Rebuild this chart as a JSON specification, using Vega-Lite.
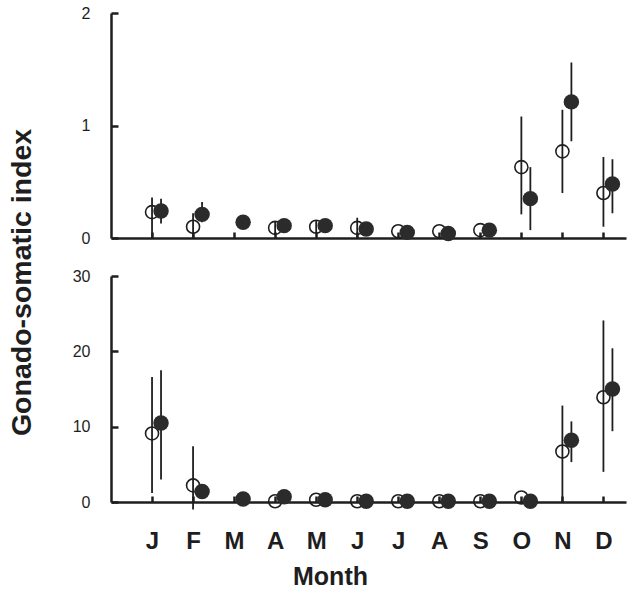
{
  "$schema": "https://vega.github.io/schema/vega-lite/v6.json",
  "background": "white",
  "padding": {"left": 6, "top": 5, "right": 5, "bottom": 0},
  "config": {
    "font": "Liberation Sans",
    "view": {"stroke": null},
    "axis": {"grid": false, "domainColor": "#1e1e1e", "domainWidth": 2.5, "tickColor": "#1e1e1e", "tickWidth": 2.5, "labelFont": "Liberation Sans", "labelColor": "#1e1e1e", "titleColor": "#1e1e1e", "labelOverlap": false, "labelFlush": false},
    "axisY": {"tickSize": -7, "labelFontSize": 16, "labelAlign": "right", "labelBaseline": "middle"}
  },
  "datasets": {
    "top": [
      {"month": 1, "series": "open", "gsi": 0.23, "lo": 0.0, "hi": 0.36},
      {"month": 2, "series": "open", "gsi": 0.10, "lo": 0.0, "hi": 0.22},
      {"month": 4, "series": "open", "gsi": 0.09, "lo": 0.03, "hi": 0.15},
      {"month": 5, "series": "open", "gsi": 0.10, "lo": 0.04, "hi": 0.16},
      {"month": 6, "series": "open", "gsi": 0.09, "lo": 0.0, "hi": 0.18},
      {"month": 7, "series": "open", "gsi": 0.06, "lo": null, "hi": null},
      {"month": 8, "series": "open", "gsi": 0.06, "lo": null, "hi": null},
      {"month": 9, "series": "open", "gsi": 0.07, "lo": null, "hi": null},
      {"month": 10, "series": "open", "gsi": 0.63, "lo": 0.21, "hi": 1.08},
      {"month": 11, "series": "open", "gsi": 0.77, "lo": 0.40, "hi": 1.14},
      {"month": 12, "series": "open", "gsi": 0.40, "lo": 0.10, "hi": 0.72},
      {"month": 1, "series": "filled", "gsi": 0.24, "lo": 0.13, "hi": 0.35},
      {"month": 2, "series": "filled", "gsi": 0.21, "lo": 0.14, "hi": 0.32},
      {"month": 3, "series": "filled", "gsi": 0.14, "lo": null, "hi": null},
      {"month": 4, "series": "filled", "gsi": 0.11, "lo": null, "hi": null},
      {"month": 5, "series": "filled", "gsi": 0.11, "lo": null, "hi": null},
      {"month": 6, "series": "filled", "gsi": 0.08, "lo": null, "hi": null},
      {"month": 7, "series": "filled", "gsi": 0.05, "lo": null, "hi": null},
      {"month": 8, "series": "filled", "gsi": 0.04, "lo": null, "hi": null},
      {"month": 9, "series": "filled", "gsi": 0.07, "lo": null, "hi": null},
      {"month": 10, "series": "filled", "gsi": 0.35, "lo": 0.07, "hi": 0.63},
      {"month": 11, "series": "filled", "gsi": 1.21, "lo": 0.86, "hi": 1.56},
      {"month": 12, "series": "filled", "gsi": 0.48, "lo": 0.22, "hi": 0.70}
    ],
    "bottom": [
      {"month": 1, "series": "open", "gsi": 9.1, "lo": 1.2, "hi": 16.6},
      {"month": 2, "series": "open", "gsi": 2.2, "lo": -1.0, "hi": 7.4},
      {"month": 4, "series": "open", "gsi": 0.1, "lo": null, "hi": null},
      {"month": 5, "series": "open", "gsi": 0.3, "lo": null, "hi": null},
      {"month": 6, "series": "open", "gsi": 0.1, "lo": null, "hi": null},
      {"month": 7, "series": "open", "gsi": 0.1, "lo": null, "hi": null},
      {"month": 8, "series": "open", "gsi": 0.1, "lo": null, "hi": null},
      {"month": 9, "series": "open", "gsi": 0.1, "lo": null, "hi": null},
      {"month": 10, "series": "open", "gsi": 0.6, "lo": null, "hi": null},
      {"month": 11, "series": "open", "gsi": 6.7, "lo": 0.0, "hi": 12.8},
      {"month": 12, "series": "open", "gsi": 13.9, "lo": 4.0, "hi": 24.1},
      {"month": 1, "series": "filled", "gsi": 10.5, "lo": 3.0, "hi": 17.5},
      {"month": 2, "series": "filled", "gsi": 1.4, "lo": null, "hi": null},
      {"month": 3, "series": "filled", "gsi": 0.4, "lo": null, "hi": null},
      {"month": 4, "series": "filled", "gsi": 0.7, "lo": null, "hi": null},
      {"month": 5, "series": "filled", "gsi": 0.3, "lo": null, "hi": null},
      {"month": 6, "series": "filled", "gsi": 0.1, "lo": null, "hi": null},
      {"month": 7, "series": "filled", "gsi": 0.1, "lo": null, "hi": null},
      {"month": 8, "series": "filled", "gsi": 0.1, "lo": null, "hi": null},
      {"month": 9, "series": "filled", "gsi": 0.1, "lo": null, "hi": null},
      {"month": 10, "series": "filled", "gsi": 0.1, "lo": null, "hi": null},
      {"month": 11, "series": "filled", "gsi": 8.2, "lo": 5.3, "hi": 10.7},
      {"month": 12, "series": "filled", "gsi": 15.0, "lo": 9.4, "hi": 20.4}
    ]
  },
  "spacing": 38,
  "bounds": "flush",
  "vconcat": [
    {
      "width": 515,
      "height": 225,
      "data": {"name": "top"},
      "encoding": {
        "x": {"field": "month", "type": "quantitative", "scale": {"domain": [0, 12.55], "nice": false, "zero": false},
              "axis": {"values": [1,2,3,4,5,6,7,8,9,10,11,12], "labels": false, "title": null, "tickSize": -6}}
      },
      "layer": [
        {
          "transform": [{"filter": "datum.series === 'open' && datum.lo != null"}],
          "mark": {"type": "rule", "strokeWidth": 1.8, "color": "#1e1e1e"},
          "encoding": {
            "y": {"field": "lo", "type": "quantitative", "scale": {"domain": [0, 2], "nice": false},
                  "axis": {"values": [0, 1, 2], "labelExpr": "datum.value + ''", "labelPadding": 28, "title": null}},
            "y2": {"field": "hi"}
          }
        },
        {
          "transform": [{"filter": "datum.series === 'filled' && datum.lo != null"}],
          "mark": {"type": "rule", "strokeWidth": 1.8, "color": "#1e1e1e", "xOffset": 9},
          "encoding": {
            "y": {"field": "lo", "type": "quantitative", "axis": {"values": [0, 1, 2], "labelExpr": "datum.value + ''", "labelPadding": 28, "title": null}},
            "y2": {"field": "hi"}
          }
        },
        {
          "transform": [{"filter": "datum.series === 'open'"}],
          "mark": {"type": "point", "shape": "circle", "filled": false, "size": 170, "strokeWidth": 1.6, "color": "#1e1e1e", "opacity": 1},
          "encoding": {
            "y": {"field": "gsi", "type": "quantitative", "axis": {"values": [0, 1, 2], "labelExpr": "datum.value + ''", "labelPadding": 28, "title": null}}
          }
        },
        {
          "transform": [{"filter": "datum.series === 'filled'"}],
          "mark": {"type": "circle", "size": 240, "color": "#2b2b2b", "opacity": 1, "xOffset": 9},
          "encoding": {
            "y": {"field": "gsi", "type": "quantitative", "axis": {"values": [0, 1, 2], "labelExpr": "datum.value + ''", "labelPadding": 28, "title": null}}
          }
        }
      ]
    },
    {
      "width": 515,
      "height": 226,
      "data": {"name": "bottom"},
      "encoding": {
        "x": {"field": "month", "type": "quantitative", "scale": {"domain": [0, 12.55], "nice": false, "zero": false},
              "axis": {"values": [1,2,3,4,5,6,7,8,9,10,11,12], "tickSize": -6,
                       "labelExpr": "['J','F','M','A','M','J','J','A','S','O','N','D'][datum.value - 1]",
                       "labelFontSize": 24, "labelFontWeight": "bold", "labelPadding": 33,
                       "title": "Month", "titleFontSize": 25, "titleFontWeight": "bold", "titlePadding": 11, "titleX": 219, "titleAlign": "center"}}
      },
      "layer": [
        {
          "transform": [{"filter": "datum.series === 'open' && datum.lo != null"}],
          "mark": {"type": "rule", "strokeWidth": 1.8, "color": "#1e1e1e"},
          "encoding": {
            "y": {"field": "lo", "type": "quantitative", "scale": {"domain": [0, 30], "nice": false},
                  "axis": {"values": [0, 10, 20, 30], "labelPadding": 28,
                           "title": "Gonado-somatic index", "titleFontSize": 28.5, "titleFontWeight": "bold",
                           "titleAngle": -90, "titleX": -90, "titleY": 6, "titleAlign": "center", "titleBaseline": "middle"}},
            "y2": {"field": "hi"}
          }
        },
        {
          "transform": [{"filter": "datum.series === 'filled' && datum.lo != null"}],
          "mark": {"type": "rule", "strokeWidth": 1.8, "color": "#1e1e1e", "xOffset": 9},
          "encoding": {
            "y": {"field": "lo", "type": "quantitative",
                  "axis": {"values": [0, 10, 20, 30], "labelPadding": 28,
                           "title": "Gonado-somatic index", "titleFontSize": 28.5, "titleFontWeight": "bold",
                           "titleAngle": -90, "titleX": -90, "titleY": 6, "titleAlign": "center", "titleBaseline": "middle"}},
            "y2": {"field": "hi"}
          }
        },
        {
          "transform": [{"filter": "datum.series === 'open'"}],
          "mark": {"type": "point", "shape": "circle", "filled": false, "size": 170, "strokeWidth": 1.6, "color": "#1e1e1e", "opacity": 1},
          "encoding": {
            "y": {"field": "gsi", "type": "quantitative",
                  "axis": {"values": [0, 10, 20, 30], "labelPadding": 28,
                           "title": "Gonado-somatic index", "titleFontSize": 28.5, "titleFontWeight": "bold",
                           "titleAngle": -90, "titleX": -90, "titleY": 6, "titleAlign": "center", "titleBaseline": "middle"}}
          }
        },
        {
          "transform": [{"filter": "datum.series === 'filled'"}],
          "mark": {"type": "circle", "size": 240, "color": "#2b2b2b", "opacity": 1, "xOffset": 9},
          "encoding": {
            "y": {"field": "gsi", "type": "quantitative",
                  "axis": {"values": [0, 10, 20, 30], "labelPadding": 28,
                           "title": "Gonado-somatic index", "titleFontSize": 28.5, "titleFontWeight": "bold",
                           "titleAngle": -90, "titleX": -90, "titleY": 6, "titleAlign": "center", "titleBaseline": "middle"}}
          }
        }
      ]
    }
  ]
}
